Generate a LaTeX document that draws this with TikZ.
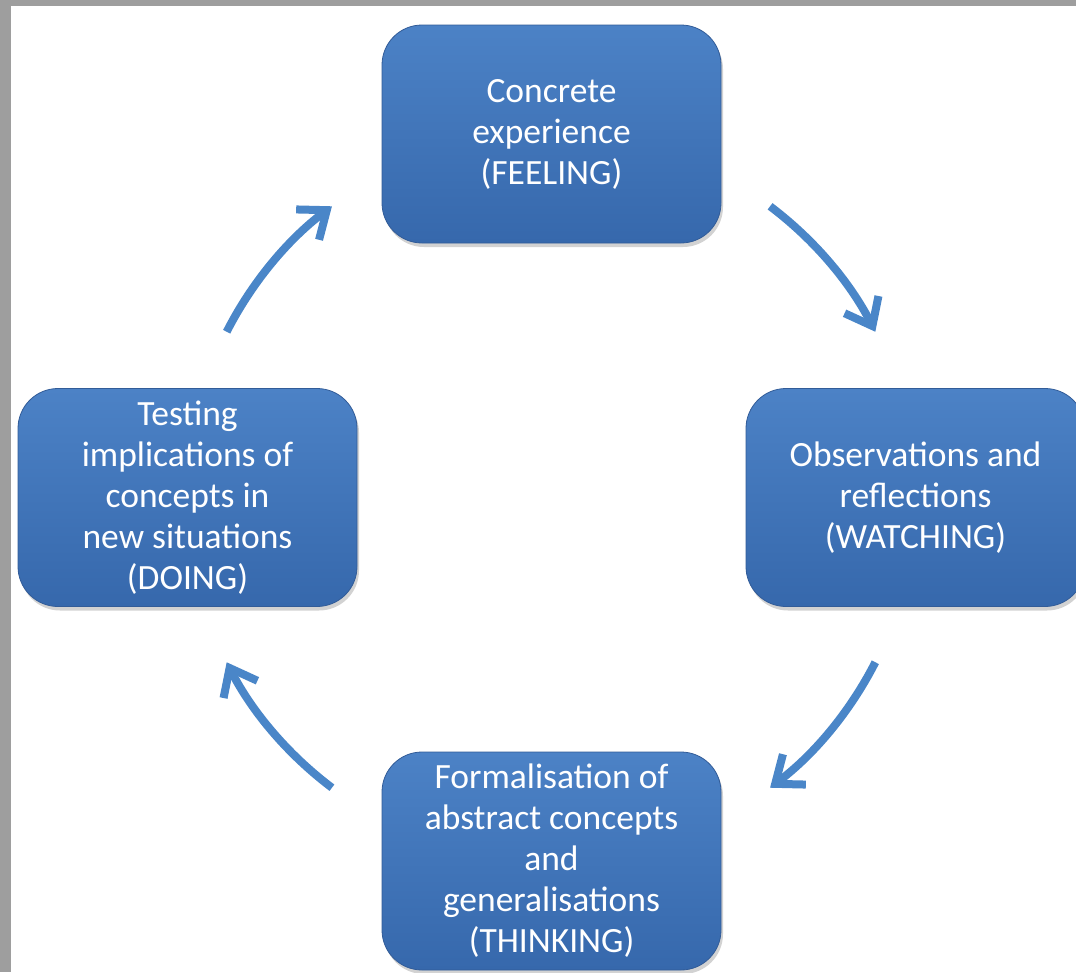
\documentclass[tikz,border=0pt]{standalone}
\usepackage{fontspec}
\setmainfont{Carlito}
\usetikzlibrary{arrows.meta,shadows}
\definecolor{stagetop}{RGB}{76,130,198}
\definecolor{stagebot}{RGB}{54,104,172}
\definecolor{stageedge}{RGB}{50,92,152}
\definecolor{cycblue}{RGB}{74,134,200}
\definecolor{framegray}{RGB}{158,158,158}

\begin{document}
\begin{tikzpicture}[x=1pt, y=1pt,
  stage/.style={draw=stageedge, line width=0.8pt, rounded corners=40pt, minimum width=339pt, minimum height=218pt, align=center, top color=stagetop, bottom color=stagebot, text=white, font=\fontsize{35.5}{41}\selectfont, drop shadow={shadow xshift=2pt, shadow yshift=-4pt, opacity=0.35}},
  cyc/.style={-{Straight Barb[length=24pt, width=38pt]}, line width=8pt, cycblue}
]
  \useasboundingbox (0,0) rectangle (1076,-972);
  \fill[framegray] (0,0) rectangle (1076,-972);
  \fill[white] (11,-6) rectangle (1076,-972);

  \node[stage] (feel) at (551.5,-134) {Concrete\\experience\\(FEELING)};
  \node[stage] (watch) at (915.5,-497.5) {Observations and\\reflections\\(WATCHING)};
  \node[stage] (think) at (551.5,-861) {Formalisation of\\abstract concepts\\and\\generalisations\\(THINKING)};
  \node[stage] (doing) at (187.5,-497.5) {Testing\\implications of\\concepts in\\new situations\\(DOING)};

  \coordinate (hub) at (551,-497);
  \coordinate (feelout) at ([shift={(53:364)}]hub);
  \coordinate (watchout) at ([shift={(-27:364)}]hub);
  \coordinate (thinkout) at ([shift={(-127:364)}]hub);
  \coordinate (doingout) at ([shift={(153:364)}]hub);

  \draw[cyc] (feelout) arc[start angle=53, end angle=27, radius=364];
  \draw[cyc] (watchout) arc[start angle=-27, end angle=-53, radius=364];
  \draw[cyc] (thinkout) arc[start angle=-127, end angle=-153, radius=364];
  \draw[cyc] (doingout) arc[start angle=153, end angle=127, radius=364];
\end{tikzpicture}
\end{document}
